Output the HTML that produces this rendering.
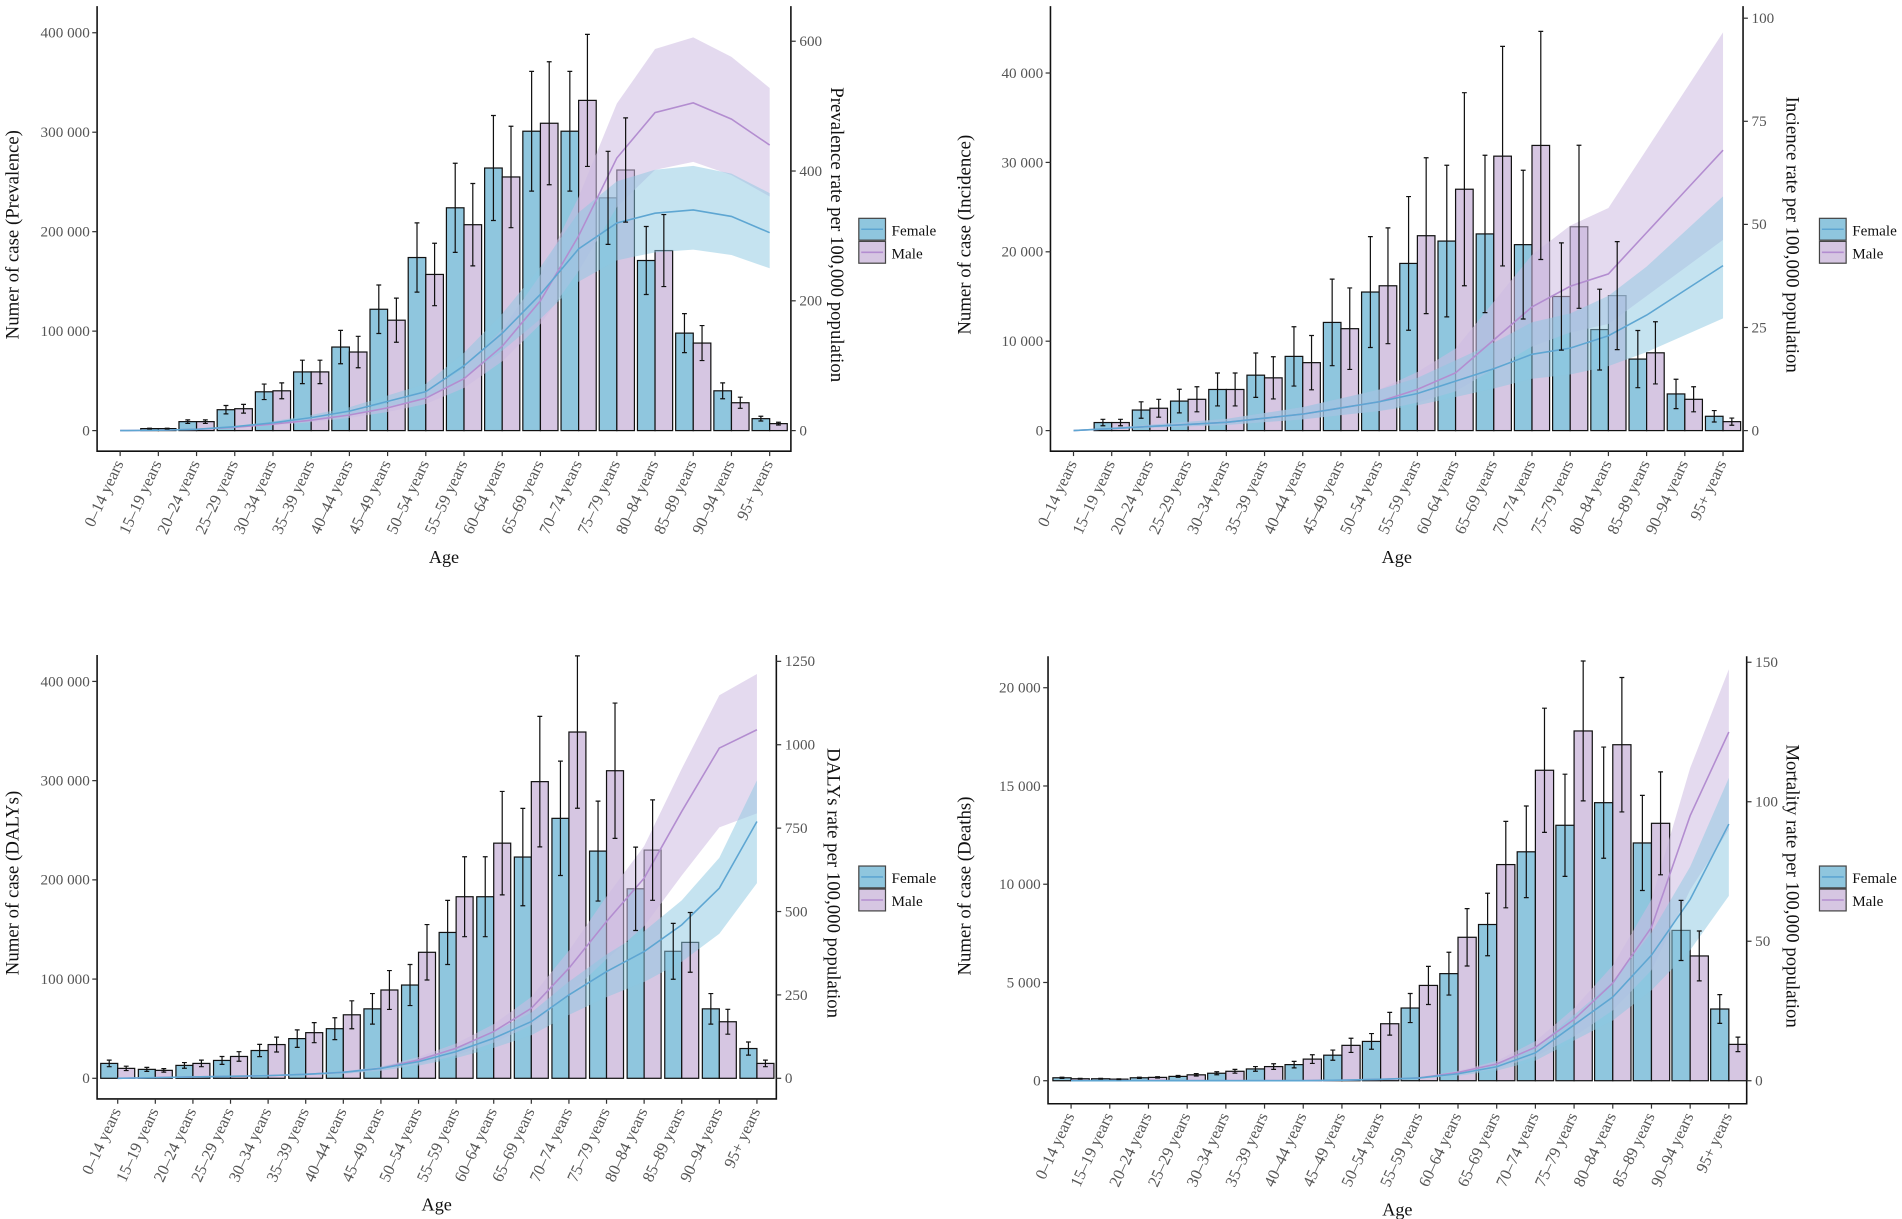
<!DOCTYPE html>
<html><head><meta charset="utf-8"><style>
html,body{margin:0;padding:0;background:#fff;}
svg{display:block;}
text{font-family:"Liberation Serif",serif;}
</style></head><body>
<svg id="s" width="1902" height="1219" viewBox="0 0 1568 1005" xmlns="http://www.w3.org/2000/svg"></svg>
<script>
const ages=["0–14 years","15–19 years","20–24 years","25–29 years","30–34 years","35–39 years","40–44 years","45–49 years","50–54 years","55–59 years","60–64 years","65–69 years","70–74 years","75–79 years","80–84 years","85–89 years","90–94 years","95+ years"];
const panels=[
{L:80,R:652,top:5,ay:372,y0:355,ls:0.82,rs:0.535,x0:99,dx:31.5,bw:14.5,
 lt:[[0,"0"],[100,"100 000"],[200,"200 000"],[300,"300 000"],[400,"400 000"]],
 rt:[[0,"0"],[200,"200"],[400,"400"],[600,"600"]],
 lt1:"Numer of case (Prevalence)",rt1:"Prevalence rate per 100,000 population",lx:15,rx:685,legX:708,legY:180,err:0.2,
 f:[0,2,9,21,39,59,84,122,174,224,264,301,301,234,171,98,40,12],
 m:[0,2,9,22,40,59,79,111,157,207,255,309,332,262,181,88,28,7],
 fr:[0,.5,2,6,12,20,30,45,60,100,150,210,280,320,335,340,330,305],
 mr:[0,.5,2,5,10,16,24,35,50,80,130,200,300,420,490,505,480,440],blo:0.82,bhi:1.2},
{L:866,R:1437,top:5,ay:372,y0:355,ls:7.37,rs:3.4,x0:885,dx:31.5,bw:14.5,
 lt:[[0,"0"],[10,"10 000"],[20,"20 000"],[30,"30 000"],[40,"40 000"]],
 rt:[[0,"0"],[25,"25"],[50,"50"],[75,"75"],[100,"100"]],
 lt1:"Numer of case (Incidence)",rt1:"Incience rate per 100,000 population",lx:800,rx:1473,legX:1500,legY:180,err:0.4,
 f:[0,.9,2.3,3.3,4.6,6.2,8.3,12.1,15.5,18.7,21.2,22,20.8,15,11.3,8,4.1,1.6],
 m:[0,.9,2.5,3.5,4.6,5.9,7.6,11.4,16.2,21.8,27,30.7,31.9,22.8,15.1,8.7,3.5,1.0],
 fr:[0,.5,1,1.5,2,3,4,5.5,7,9,12,15,18.5,20,23,28,34,40],
 mr:[0,.5,1,1.5,2,3,4,5.5,7,10,14,22,30,35,38,48,58,68],blo:0.68,bhi:1.42},
{L:80,R:640,top:540,ay:906,y0:889,ls:0.818,rs:0.275,x0:97,dx:31,bw:14,
 lt:[[0,"0"],[100,"100 000"],[200,"200 000"],[300,"300 000"],[400,"400 000"]],
 rt:[[0,"0"],[250,"250"],[500,"500"],[750,"750"],[1000,"1000"],[1250,"1250"]],
 lt1:"Numer of case (DALYs)",rt1:"DALYs rate per 100,000 population",lx:15,rx:682,legX:708,legY:714,err:0.22,
 f:[15,9,13,18,28,40,50,70,94,147,183,223,262,229,191,128,70,30],
 m:[10,8,15,22,34,46,64,89,127,183,237,299,349,310,230,137,57,15],
 fr:[0,2,4,6,8,12,18,30,50,80,120,170,250,320,380,460,570,770],
 mr:[0,2,4,6,8,12,18,30,55,90,140,210,330,470,600,800,990,1045],blo:0.76,bhi:1.16},
{L:864,R:1440,top:541,ay:910,y0:891,ls:16.2,rs:2.3,x0:883,dx:31.9,bw:15,
 lt:[[0,"0"],[5,"5 000"],[10,"10 000"],[15,"15 000"],[20,"20 000"]],
 rt:[[0,"0"],[50,"50"],[100,"100"],[150,"150"]],
 lt1:"Numer of case (Deaths)",rt1:"Mortality rate per 100,000 population",lx:800,rx:1473,legX:1500,legY:714,err:0.2,
 f:[.15,.1,.15,.22,.38,.6,.82,1.3,2,3.7,5.45,7.95,11.65,13,14.15,12.1,7.65,3.65],
 m:[.1,.08,.17,.3,.48,.72,1.1,1.8,2.9,4.85,7.3,11,15.8,17.8,17.1,13.1,6.35,1.85],
 fr:[0,0,0,0,0,0,0,.2,.5,1,2.5,5,10,20,30,45,65,92],
 mr:[0,0,0,0,0,0,0,.2,.5,1,3,6,12,22,35,55,95,125],blo:0.72,bhi:1.18}
];
const FB="#8fc6de",MB="#d6c6e2",FL="#5ea6d2",ML="#b38dd0";
let h="";
for(const p of panels){
 const yl=v=>p.y0-v*p.ls, yr=v=>p.y0-v*p.rs;
 for(let i=0;i<18;i++){
  const c=p.x0+i*p.dx;
  h+=`<rect x="${c-p.bw}" y="${yl(p.f[i])}" width="${p.bw}" height="${p.f[i]*p.ls}" fill="${FB}" stroke="#111" stroke-width="1"/>`;
  h+=`<rect x="${c}" y="${yl(p.m[i])}" width="${p.bw}" height="${p.m[i]*p.ls}" fill="${MB}" stroke="#111" stroke-width="1"/>`;
 }
 const xs=i=>p.x0+i*p.dx;
 const band=(arr,col)=>{let up=arr.map((v,i)=>`${xs(i)},${yr(v*p.bhi)}`),lo=arr.map((v,i)=>`${xs(i)},${yr(v*p.blo)}`).reverse();return `<polygon points="${up.concat(lo).join(" ")}" fill="${col}"/>`;};
 h+=band(p.mr,"rgba(205,188,225,0.55)");
 h+=band(p.fr,"rgba(140,200,225,0.5)");
 h+=`<polyline points="${p.mr.map((v,i)=>xs(i)+","+yr(v)).join(" ")}" fill="none" stroke="${ML}" stroke-width="1.3"/>`;
 h+=`<polyline points="${p.fr.map((v,i)=>xs(i)+","+yr(v)).join(" ")}" fill="none" stroke="${FL}" stroke-width="1.3"/>`;
 for(let i=0;i<18;i++){
  const c=p.x0+i*p.dx;
  for(const [v,x] of [[p.f[i],c-p.bw/2],[p.m[i],c+p.bw/2]]){
   if(v<=0)continue;
   const a=yl(v*(1+p.err)),b=yl(v*(1-p.err));
   h+=`<path d="M${x},${a}V${b}M${x-2},${a}H${x+2}M${x-2},${b}H${x+2}" stroke="#111" stroke-width="1"/>`;
  }
 }
 h+=`<path d="M${p.L},${p.top}V${p.ay}H${p.R}V${p.top}" fill="none" stroke="#111" stroke-width="1.3"/>`;
 for(const [v,t] of p.lt){const y=yl(v);h+=`<path d="M${p.L-4},${y}H${p.L}" stroke="#333"/><text x="${p.L-6}" y="${y+4}" font-size="12.5" fill="#555" text-anchor="end">${t}</text>`;}
 for(const [v,t] of p.rt){const y=yr(v);h+=`<path d="M${p.R},${y}H${p.R+4}" stroke="#333"/><text x="${p.R+7}" y="${y+4}" font-size="12.5" fill="#555">${t}</text>`;}
 for(let i=0;i<18;i++){const x=xs(i);h+=`<path d="M${x},${p.ay}V${p.ay+4}" stroke="#333"/><text transform="translate(${x+3},${p.ay+10}) rotate(-65)" font-size="13.5" fill="#555" text-anchor="end">${ages[i]}</text>`;}
 const cy=(p.top+p.ay)/2;
 h+=`<text transform="translate(${p.lx},${cy+5}) rotate(-90)" font-size="15.5" fill="#111" text-anchor="middle">${p.lt1}</text>`;
 h+=`<text transform="translate(${p.rx},${cy+5}) rotate(90)" font-size="15.5" fill="#111" text-anchor="middle">${p.rt1}</text>`;
 h+=`<text x="${(p.L+p.R)/2}" y="${p.ay+92}" font-size="15" fill="#111" text-anchor="middle">Age</text>`;
 const lg=(y,fc,lc,t)=>`<rect x="${p.legX}" y="${y}" width="22" height="18" fill="${fc}" stroke="#444"/><path d="M${p.legX+2},${y+9}H${p.legX+20}" stroke="${lc}" stroke-width="1.3"/><text x="${p.legX+27}" y="${y+14}" font-size="12.5" fill="#111">${t}</text>`;
 h+=lg(p.legY,FB,FL,"Female")+lg(p.legY+19,MB,ML,"Male");
}
document.getElementById("s").innerHTML=h;
</script>
</body></html>
